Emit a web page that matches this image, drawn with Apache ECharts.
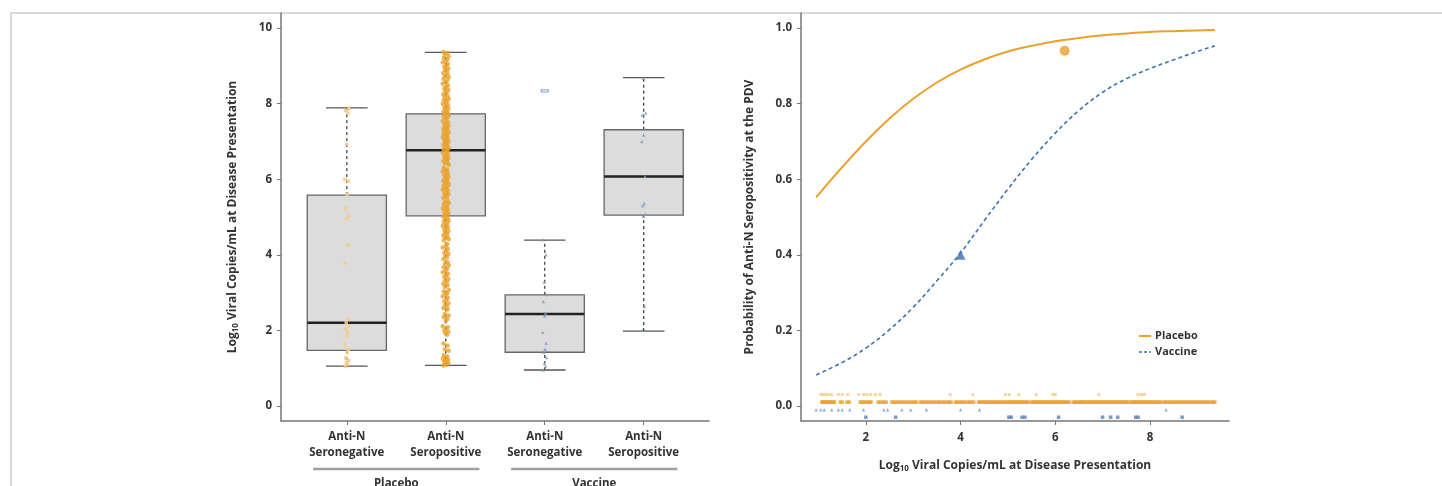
<!DOCTYPE html>
<html>
<head>
<meta charset="utf-8">
<script src="https://cdn.jsdelivr.net/npm/echarts@6/dist/echarts.min.js"></script>
<style>
html,body{margin:0;padding:0;background:#fff;}
#c{width:1442px;height:486px;}
</style>
</head>
<body>
<div id="c"></div>
<script>
// ---------- data ----------
const groupLabels = ['Anti-N\nSeronegative', 'Anti-N\nSeropositive', 'Anti-N\nSeronegative', 'Anti-N\nSeropositive'];
const armLabels = ['Placebo', 'Vaccine'];
const armCenters = [1.5, 3.5];
// box stats: [lower whisker, Q1, median, Q3, upper whisker]
const boxStats = [
  [1.05, 1.47, 2.2, 5.58, 7.89],
  [1.07, 5.03, 6.77, 7.73, 9.36],
  [0.95, 1.42, 2.43, 2.94, 4.39],
  [1.98, 5.05, 6.07, 7.31, 8.69]
];
const outliers = [[3, 8.34]];
// individual log10 viral loads
const placeboNeg = [1.05, 1.1, 1.15, 1.2, 1.27, 1.42, 1.5, 1.62, 1.85, 1.95, 2.02, 2.1, 2.2, 2.3, 3.78, 4.26, 4.95, 5.03, 5.23, 5.6, 5.95, 6.0, 6.92, 7.75, 7.82, 7.88];
const placeboPos = [1.07, 1.09, 1.12, 1.14, 1.17, 1.2, 1.22, 1.25, 1.28, 1.31, 1.34, 1.46, 1.5, 1.6, 1.65,
  1.88, 1.92, 1.96, 2.0, 2.04, 2.08, 2.11, 2.26, 2.3, 2.35, 2.39, 2.43,
  2.55, 2.59, 2.63, 2.68, 2.72, 2.77, 2.81, 2.86, 2.9, 2.95, 2.99, 3.03, 3.07,
  3.15, 3.19, 3.23, 3.28, 3.32, 3.36, 3.41, 3.45, 3.5, 3.54, 3.58, 3.63, 3.67, 3.72, 3.76, 3.8,
  3.89, 3.93, 3.97, 4.02, 4.06, 4.1, 4.15, 4.19, 4.23, 4.28,
  4.38, 4.41, 4.45, 4.48, 4.52, 4.55, 4.59, 4.62, 4.66, 4.69, 4.73, 4.76, 4.8, 4.83, 4.87, 4.9, 4.94, 4.97,
  5.01, 5.04, 5.07, 5.1, 5.14, 5.17, 5.2, 5.23, 5.27, 5.3, 5.33, 5.37, 5.4, 5.43, 5.5, 5.53, 5.56, 5.6,
  5.63, 5.66, 5.7, 5.73, 5.76, 5.8, 5.83, 5.86, 5.9, 5.93, 5.96, 6.0, 6.03, 6.06, 6.1, 6.13, 6.16, 6.2,
  6.23, 6.26, 6.3, 6.38, 6.41, 6.44, 6.48, 6.51, 6.54, 6.57, 6.6, 6.63, 6.67, 6.7, 6.73, 6.76, 6.79,
  6.82, 6.85, 6.88, 6.91, 6.94, 6.97, 7.0, 7.03, 7.06, 7.09, 7.12, 7.15, 7.18, 7.21, 7.24, 7.27, 7.3,
  7.33, 7.36, 7.39, 7.42, 7.45, 7.48, 7.51, 7.54, 7.6, 7.63, 7.66, 7.69, 7.72, 7.75, 7.78, 7.81, 7.84,
  7.87, 7.9, 7.93, 7.96, 8.0, 8.03, 8.06, 8.1, 8.13, 8.17, 8.2, 8.24, 8.3, 8.33, 8.37, 8.41, 8.45, 8.49,
  8.53, 8.57, 8.61, 8.65, 8.69, 8.73, 8.77, 8.81, 8.85, 8.89, 8.93, 8.97, 9.01, 9.05, 9.09, 9.13, 9.17,
  9.21, 9.25, 9.3, 9.34, 9.37];
const vaccineNeg = [0.95, 1.05, 1.12, 1.28, 1.42, 1.5, 1.66, 1.95, 2.38, 2.46, 2.76, 2.95, 3.28, 4.0, 4.4, 8.34];
const vaccinePos = [2.0, 2.63, 5.02, 5.07, 5.3, 5.36, 6.07, 7.0, 7.17, 7.32, 7.7, 7.75, 8.68];
// fitted probability curves
const curveX = [0.95, 1.5, 2, 2.5, 3, 3.5, 4, 4.5, 5, 5.5, 6, 6.5, 7, 7.5, 8, 8.5, 9, 9.37];
const placeboCurve = [0.552, 0.632, 0.70, 0.761, 0.813, 0.856, 0.89, 0.917, 0.938, 0.953, 0.965, 0.974, 0.981, 0.986, 0.99, 0.992, 0.994, 0.995];
const vaccineCurve = [0.082, 0.115, 0.153, 0.202, 0.261, 0.331, 0.405, 0.49, 0.574, 0.652, 0.722, 0.782, 0.83, 0.866, 0.893, 0.916, 0.938, 0.953];
const placeboMarker = [6.2, 0.94];
const vaccineMarker = [4.0, 0.40];
const legendNames = ['Placebo', 'Vaccine'];
// tick labels
const leftYTicks = [0, 2, 4, 6, 8, 10];
const rightYTicks = [0, 0.2, 0.4, 0.6, 0.8, 1.0];
const rightXTicks = [2, 4, 6, 8];

// ---------- styling / layout constants ----------
const ORANGE = '#E9A12B', ORANGE_LIGHT = '#F3CC8C', BLUE = '#3F72AF', BLUE_LIGHT = '#7F9CC8';
const jitter = [-0.04, 0.02, -0.01, 0.045, -0.025, 0.01, 0.035, -0.05, 0.0, 0.025, -0.035, 0.05, -0.015, 0.03];
const rugLevels = {placeboNeg: 0.03, placeboPos: 0.01, vaccineNeg: -0.01, vaccinePos: -0.03};
const FONT = 'Open Sans';
const txt = {color: '#333', fontFamily: FONT, fontWeight: 'bold', fontSize: 11.5};

function jitterPts(vals, gx, scale) {
  return vals.map((v, i) => [gx + jitter[i % jitter.length] * scale, v]);
}
function rugPts(vals, level) { return vals.map(v => [v, level]); }

function renderBox(params, api) {
  const x = api.value(0);
  const lo = api.value(1), q1 = api.value(2), med = api.value(3), q3 = api.value(4), hi = api.value(5);
  const bw = api.size([0.8, 0])[0] / 2;
  const cw = api.size([0.42, 0])[0] / 2;
  const pLo = api.coord([x, lo]), pQ1 = api.coord([x, q1]), pMed = api.coord([x, med]);
  const pQ3 = api.coord([x, q3]), pHi = api.coord([x, hi]);
  const cx = pMed[0];
  const dash = {stroke: '#444', lineWidth: 1.3, lineDash: [3, 3]};
  const solid = {stroke: '#555', lineWidth: 1.3};
  return {
    type: 'group',
    children: [
      {type: 'line', shape: {x1: cx, y1: pQ3[1], x2: cx, y2: pHi[1]}, style: dash},
      {type: 'line', shape: {x1: cx, y1: pLo[1], x2: cx, y2: pQ1[1]}, style: dash},
      {type: 'line', shape: {x1: cx - cw, y1: pHi[1], x2: cx + cw, y2: pHi[1]}, style: solid},
      {type: 'line', shape: {x1: cx - cw, y1: pLo[1], x2: cx + cw, y2: pLo[1]}, style: solid},
      {type: 'rect', shape: {x: cx - bw, y: pQ3[1], width: 2 * bw, height: pQ1[1] - pQ3[1]},
        style: {fill: '#DCDCDC', stroke: '#666', lineWidth: 1.3}},
      {type: 'line', shape: {x1: cx - bw, y1: pMed[1], x2: cx + bw, y2: pMed[1]}, style: {stroke: '#222', lineWidth: 2.5}}
    ]
  };
}

const subRich = {
  a: {color: '#333', fontFamily: FONT, fontWeight: 'bold', fontSize: 12},
  s: {color: '#333', fontFamily: FONT, fontWeight: 'bold', fontSize: 8, verticalAlign: 'bottom', padding: [6, 0, 0, 0]}
};

const chart = echarts.init(document.getElementById('c'), null, {renderer: 'canvas'});
const option = {
  animation: false,
  backgroundColor: '#fff',
  grid: [
    {left: 281, right: 733, top: 13, bottom: 65},
    {left: 801, right: 213, top: 13, bottom: 65}
  ],
  xAxis: [
    {
      type: 'value', gridIndex: 0, min: 0.335, max: 4.66,
      axisLine: {onZero: false, lineStyle: {color: '#777', width: 1.5}},
      axisTick: {customValues: [1, 2, 3, 4], length: 4, lineStyle: {color: '#777'}},
      axisLabel: Object.assign({customValues: [1, 2, 3, 4], formatter: v => groupLabels[Math.round(v) - 1], margin: 8, lineHeight: 16}, txt),
      splitLine: {show: false}
    },
    {
      type: 'value', gridIndex: 1, min: 0.63, max: 9.67,
      name: '{a|Log}{s|10}{a| Viral Copies/mL at Disease Presentation}',
      nameLocation: 'middle', nameGap: 38,
      nameTextStyle: {rich: subRich},
      axisLine: {onZero: false, lineStyle: {color: '#777', width: 1.5}},
      axisTick: {customValues: rightXTicks, length: 4, lineStyle: {color: '#777'}},
      axisLabel: Object.assign({customValues: rightXTicks, margin: 11}, txt),
      splitLine: {show: false}
    }
  ],
  yAxis: [
    {
      type: 'value', gridIndex: 0, min: -0.4, max: 10.4,
      name: '{a|Log}{s|10}{a| Viral Copies/mL at Disease Presentation}',
      nameLocation: 'middle', nameGap: 41, nameRotate: 90,
      nameTextStyle: {rich: subRich},
      axisLine: {onZero: false, show: true, lineStyle: {color: '#777', width: 1.5}},
      axisTick: {show: true, customValues: leftYTicks, length: 4, lineStyle: {color: '#777'}},
      axisLabel: Object.assign({customValues: leftYTicks, margin: 9}, txt),
      splitLine: {show: false}
    },
    {
      type: 'value', gridIndex: 1, min: -0.04, max: 1.04,
      name: 'Probability of Anti-N Seropositivity at the PDV',
      nameLocation: 'middle', nameGap: 45, nameRotate: 90,
      nameTextStyle: {color: '#333', fontFamily: FONT, fontWeight: 'bold', fontSize: 12},
      axisLine: {onZero: false, show: true, lineStyle: {color: '#777', width: 1.5}},
      axisTick: {show: true, customValues: rightYTicks, length: 4, lineStyle: {color: '#777'}},
      axisLabel: Object.assign({customValues: rightYTicks, margin: 9, formatter: v => v.toFixed(1)}, txt),
      splitLine: {show: false}
    }
  ],
  series: [
    {
      type: 'custom', name: 'box', xAxisIndex: 0, yAxisIndex: 0, z: 1,
      renderItem: renderBox,
      encode: {x: 0, y: [1, 2, 3, 4, 5]},
      data: boxStats.map((s, i) => [i + 1].concat(s))
    },
    {type: 'scatter', name: 'pn', xAxisIndex: 0, yAxisIndex: 0, z: 3, symbol: 'rect', symbolSize: 3.5,
      itemStyle: {color: ORANGE_LIGHT, opacity: 0.9}, data: jitterPts(placeboNeg, 1, 0.4)},
    {type: 'scatter', name: 'pp', xAxisIndex: 0, yAxisIndex: 0, z: 3, symbol: 'circle', symbolSize: 4.5,
      itemStyle: {color: ORANGE}, data: jitterPts(placeboPos, 2, 0.6)},
    {type: 'scatter', name: 'vn', xAxisIndex: 0, yAxisIndex: 0, z: 3, symbol: 'triangle', symbolSize: 3.5,
      itemStyle: {color: BLUE_LIGHT}, data: jitterPts(vaccineNeg.slice(0, -1), 3, 0.4)},
    {type: 'scatter', name: 'vp', xAxisIndex: 0, yAxisIndex: 0, z: 3, symbol: 'triangle', symbolSize: 3.5,
      itemStyle: {color: BLUE_LIGHT}, data: jitterPts(vaccinePos, 4, 0.4)},
    {type: 'scatter', name: 'out', xAxisIndex: 0, yAxisIndex: 0, z: 3, symbol: 'rect', symbolSize: [7, 3],
      itemStyle: {color: '#B9CBE3', borderColor: BLUE_LIGHT, borderWidth: 0.8}, data: outliers},
    // right panel
    {type: 'line', name: 'Placebo', xAxisIndex: 1, yAxisIndex: 1, symbol: 'none', smooth: 0.4,
      lineStyle: {color: ORANGE, width: 2}, itemStyle: {color: ORANGE},
      data: curveX.map((x, i) => [x, placeboCurve[i]])},
    {type: 'line', name: 'Vaccine', xAxisIndex: 1, yAxisIndex: 1, symbol: 'none', smooth: 0.4,
      lineStyle: {color: BLUE, width: 1.6, type: [4, 3]}, itemStyle: {color: BLUE},
      data: curveX.map((x, i) => [x, vaccineCurve[i]])},
    {type: 'scatter', name: 'pm', xAxisIndex: 1, yAxisIndex: 1, symbol: 'circle', symbolSize: 10,
      itemStyle: {color: ORANGE}, data: [placeboMarker]},
    {type: 'scatter', name: 'vm', xAxisIndex: 1, yAxisIndex: 1, symbol: 'triangle', symbolSize: 10,
      itemStyle: {color: BLUE}, data: [vaccineMarker]},
    {type: 'scatter', name: 'rpn', xAxisIndex: 1, yAxisIndex: 1, symbol: 'rect', symbolSize: [3, 3],
      itemStyle: {color: ORANGE_LIGHT}, data: rugPts(placeboNeg, rugLevels.placeboNeg)},
    {type: 'scatter', name: 'rpp', xAxisIndex: 1, yAxisIndex: 1, symbol: 'rect', symbolSize: [3.5, 3.5],
      itemStyle: {color: ORANGE}, data: rugPts(placeboPos, rugLevels.placeboPos)},
    {type: 'scatter', name: 'rvn', xAxisIndex: 1, yAxisIndex: 1, symbol: 'triangle', symbolSize: 3.5,
      itemStyle: {color: BLUE_LIGHT}, data: rugPts(vaccineNeg, rugLevels.vaccineNeg)},
    {type: 'scatter', name: 'rvp', xAxisIndex: 1, yAxisIndex: 1, symbol: 'rect', symbolSize: 3.5,
      itemStyle: {color: '#5E80B4'}, data: rugPts(vaccinePos, rugLevels.vaccinePos)}
  ]
};
chart.setOption(option);

// frame, group brackets and legend
const gfx = [{type: 'rect', shape: {x: 11, y: 13, width: 1440, height: 480}, style: {fill: 'none', stroke: '#D9D9D9', lineWidth: 2}, silent: true, z: -1}];
armCenters.forEach((c, i) => {
  const a = chart.convertToPixel({xAxisIndex: 0}, c - 0.84);
  const b = chart.convertToPixel({xAxisIndex: 0}, c + 0.84);
  const m = chart.convertToPixel({xAxisIndex: 0}, c);
  gfx.push({type: 'line', shape: {x1: a, y1: 469, x2: b, y2: 469}, style: {stroke: '#A0A0A0', lineWidth: 2.5}, silent: true});
  gfx.push({type: 'text', x: m, y: 478, style: {text: armLabels[i], fill: '#333', font: 'bold 11.5px "Open Sans"', textAlign: 'center', textVerticalAlign: 'top'}, silent: true});
});
const legendStyles = [
  {stroke: ORANGE, lineWidth: 2},
  {stroke: BLUE, lineWidth: 1.6, lineDash: [3, 2]}
];
legendNames.forEach((n, i) => {
  const y = 336 + i * 16;
  gfx.push({type: 'line', shape: {x1: 1139, y1: y, x2: 1151, y2: y}, style: legendStyles[i], silent: true});
  gfx.push({type: 'text', x: 1155, y: y, style: {text: n, fill: '#333', font: 'bold 11px "Open Sans"', textAlign: 'left', textVerticalAlign: 'middle'}, silent: true});
});
chart.setOption({graphic: gfx});
</script>
</body>
</html>
